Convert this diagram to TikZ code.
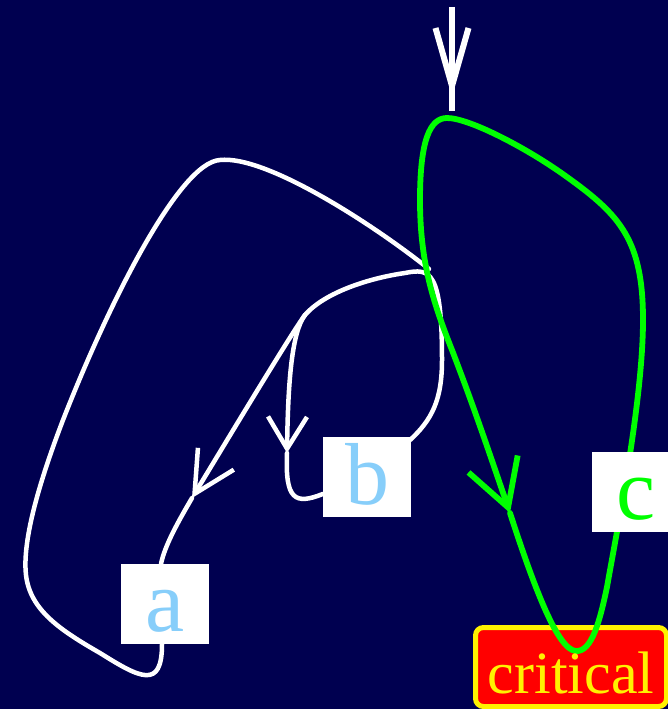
\documentclass[tikz,border=0pt]{standalone}
\usepackage{fontspec}
\setmainfont{Liberation Serif}
\usetikzlibrary{arrows.meta,decorations.markings}
\definecolor{night}{RGB}{0,0,80}
\definecolor{skyletter}{RGB}{135,206,250}
\definecolor{pathgreen}{RGB}{0,255,0}
\pgfdeclarelayer{bg}
\pgfdeclarelayer{edges}
\pgfsetlayers{bg,edges,main}
\tikzset{
  statebox/.style={fill=white, draw=none, minimum width=88pt, minimum height=80pt,
    inner sep=0pt, text height=54pt, text depth=0pt,
    font=\fontsize{88pt}{96pt}\selectfont},
  critbox/.style={fill=red, draw=yellow, line width=5pt, rounded corners=8pt,
    minimum width=191pt, minimum height=79pt, inner sep=0pt},
  crittext/.style={text=yellow, font=\fontsize{60pt}{66pt}\selectfont,
    inner sep=0pt, anchor=base},
  edge/.style={white, line width=4.5pt, line cap=round},
  hot/.style={pathgreen, line width=5.8pt, line cap=round},
  entry/.style={white, line width=6pt},
  barb/.style 2 args={-{Straight Barb[length=#1pt, width=#2pt]}},
  midbarb/.style n args={3}{postaction={decorate}, decoration={markings,
    mark=at position #1 with {\arrow{Straight Barb[length=#2pt, width=#3pt]}}}},
}
\begin{document}
\begin{tikzpicture}[x=1pt, y=-1pt]
\useasboundingbox (0,0) rectangle (668,709);

% background and the red target state
\begin{pgfonlayer}{bg}
  \fill[night] (0,0) rectangle (668,709);
  \node[critbox] (crit) at (571,667) {};
\end{pgfonlayer}

% states
\node[statebox, text=skyletter] (a) at (165,604) {a};
\node[statebox, text=skyletter] (b) at (367,477) {b};
\node[statebox, text=pathgreen] (c) at (636,492) {c};
\node[crittext] (critlabel) at (571,693) {critical};

% anchor points of the edges
\coordinate (src)    at (452,7);
\coordinate (init)   at (452,111);
\coordinate (top)    at (447,118);
\coordinate (s)      at (429,269);
\coordinate (fork)   at (305,315);
\coordinate (atip)   at (192,498);
\coordinate (btip)   at (287,453);
\coordinate (gtip)   at (510,513);
\coordinate (dip)    at (576,651);
\coordinate (aout)   at ([xshift=-3pt]a.south);
\coordinate (ain)    at ([xshift=-4pt]a.north);
\coordinate (bout)   at ([xshift=-2pt,yshift=-4pt]b.north east);
\coordinate (bin)    at ([yshift=-17pt]b.west);

\begin{pgfonlayer}{edges}
  % initial arrow
  \draw[entry, midbarb={0.865}{58}{33}] (src) -- (init);

  % a back to s, round the left side
  \draw[edge] (aout) .. controls (162,690) and (140,678) .. (100,653)
    .. controls (60,630) and (30,610) .. (26,575)
    .. controls (22,540) and (40,480) .. (63,420)
    .. controls (110,300) and (180,162) .. (220,160)
    .. controls (265,155) and (370,222) .. (s);

  % b up through s and over to the fork
  \draw[edge] (bout) .. controls (432,420) and (442,400) .. (442,360)
    .. controls (442,270) and (430,268) .. (405,273)
    .. controls (370,278) and (325,292) .. (fork);

  % fork to a
  \draw[edge, barb={41}{42}] (fork) .. controls (292,332) and (220,452) .. (atip);
  \draw[edge] (atip) .. controls (178,522) and (165,545) .. (ain);

  % fork to b
  \draw[edge, barb={32}{39}] (fork) .. controls (292,332) and (288,380) .. (btip);
  \draw[edge] (btip) .. controls (285,500) and (295,505) .. (bin);

  % green cycle: top, critical, c and back
  \draw[hot, barb={46}{52}] (top) .. controls (430,118) and (420,140) .. (420,200)
    .. controls (420,260) and (432,300) .. (452,350)
    .. controls (475,410) and (490,455) .. (gtip);
  \draw[hot] (gtip) .. controls (535,590) and (558,650) .. (dip)
    .. controls (592,652) and (600,620) .. (607,587)
    .. controls (617,530) and (643,400) .. (643,320)
    .. controls (643,240) and (620,215) .. (567,177)
    .. controls (530,150) and (470,118) .. (top);
\end{pgfonlayer}
\end{tikzpicture}
\end{document}
